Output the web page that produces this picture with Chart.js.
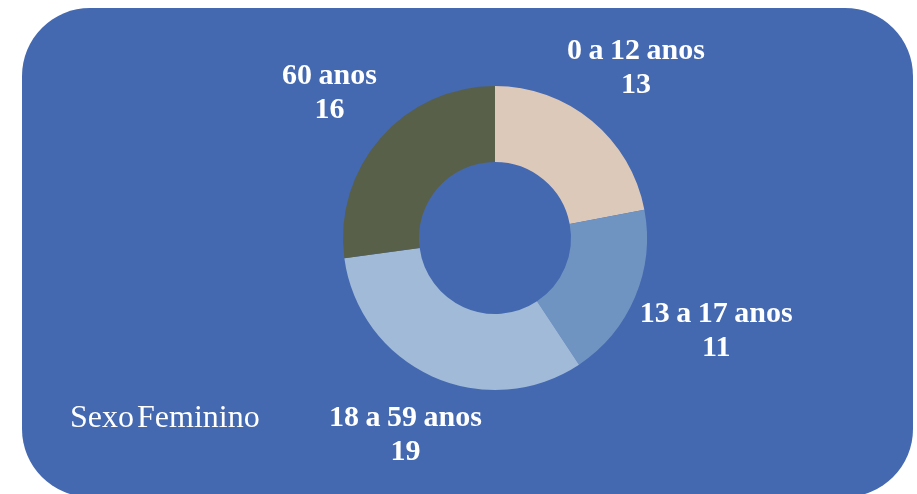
<!DOCTYPE html>
<html>
<head>
<meta charset="utf-8">
<script src="https://cdn.jsdelivr.net/npm/chart.js@4/dist/chart.umd.min.js"></script>
<style>
  html, body { margin: 0; padding: 0; background: #ffffff; }
  #wrap { width: 917px; height: 494px; }
</style>
</head>
<body>
<div id="wrap"><canvas id="ageChart"></canvas></div>
<script>
const categories = ['0 a 12 anos', '13 a 17 anos', '18 a 59 anos', '60 anos'];
const values = [13, 11, 19, 16];
const sliceColors = ['#DDC9B9', '#7094C2', '#A0BAD8', '#596049'];
const chartTitle = 'Sexo Feminino';

const panelBg = '#4469B0';
const labelFont = 'bold 30px "Liberation Serif", "Times New Roman", serif';

// rounded blue panel behind the chart
const panelPlugin = {
    id: 'panel',
    beforeDraw(chart) {
        const c = chart.ctx;
        const x = 22, y = 8, w = 891, h = 489, r = 68;
        c.save();
        c.fillStyle = panelBg;
        c.beginPath();
        c.roundRect(x, y, w, h, r);
        c.fill();
        c.restore();
    }
};

// category + value labels outside each slice, plus the title text
const labelPlugin = {
    id: 'sliceLabels',
    afterDraw(chart) {
        const c = chart.ctx;
        const meta = chart.getDatasetMeta(0);
        const lineH = 34;
        c.save();
        c.fillStyle = '#ffffff';
        c.font = labelFont;
        c.wordSpacing = '-1px';
        c.textAlign = 'center';
        c.textBaseline = 'middle';
        meta.data.forEach((arc, i) => {
            const p = arc.getProps(['x', 'y', 'startAngle', 'endAngle', 'outerRadius'], true);
            const mid = (p.startAngle + p.endAngle) / 2;
            const cos = Math.cos(mid), sin = Math.sin(mid);
            const lines = [categories[i], String(values[i])];
            const w = Math.max(...lines.map(t => c.measureText(t).width));
            const h = lineH * lines.length;
            // push the label box out until it clears the ring
            const t = 1 / Math.sqrt(Math.pow(cos / (w / 2), 2) + Math.pow(sin / (h / 2), 2));
            const d = p.outerRadius + 28 + t;
            const cx = p.x + cos * d;
            const cy = p.y + sin * d;
            lines.forEach((txt, k) => {
                c.fillText(txt, cx, cy - h / 2 + lineH / 2 + k * lineH);
            });
        });
        c.font = '32px "Liberation Serif", "Times New Roman", serif';
        c.wordSpacing = '-5px';
        c.textAlign = 'left';
        c.fillText(chartTitle, 70, 419);
        c.restore();
    }
};

new Chart(document.getElementById('ageChart'), {
    type: 'doughnut',
    data: {
        labels: categories,
        datasets: [{
            data: values,
            backgroundColor: sliceColors,
            borderWidth: 0
        }]
    },
    options: {
        responsive: true,
        maintainAspectRatio: false,
        animation: false,
        cutout: '50%',
        layout: {
            padding: { top: 86, bottom: 104, left: 343, right: 270 }
        },
        plugins: {
            legend: { display: false },
            tooltip: { enabled: false }
        }
    },
    plugins: [panelPlugin, labelPlugin]
});
</script>
</body>
</html>
